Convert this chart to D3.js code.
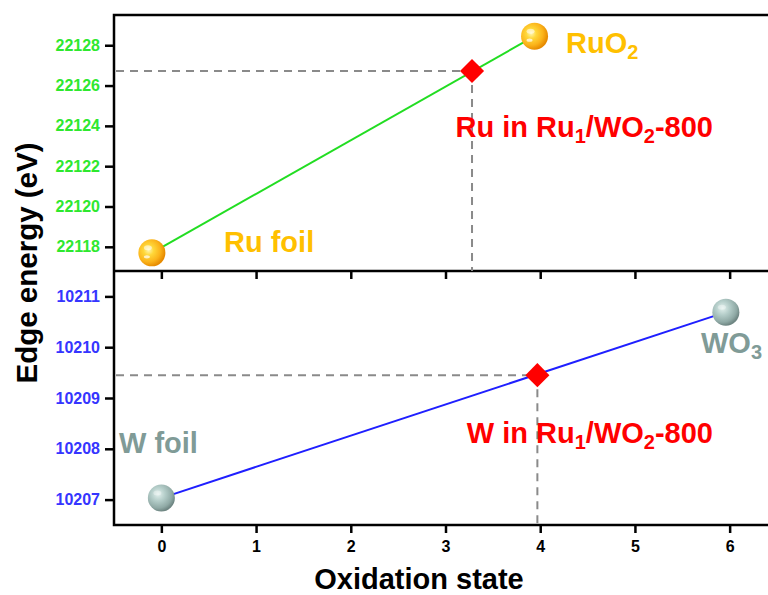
<!DOCTYPE html>
<html>
<head>
<meta charset="utf-8">
<script src="https://cdn.jsdelivr.net/npm/d3@7"></script>
<style>
  html, body { margin: 0; padding: 0; background: #fff; }
  svg { display: block; font-family: Arial, "Liberation Sans", sans-serif; font-weight: bold; }
</style>
</head>
<body>
<svg id="chart" width="768" height="595"></svg>
<script>
// Oxidation-state axis
const xTicks = [0, 1, 2, 3, 4, 5, 6];

// Ru K-edge panel
const ruTicks = [22118, 22120, 22122, 22124, 22126, 22128];
const ruRefNames = ["Ru foil", "RuO2"];
const ruRefStates = [-0.1, 3.94];
const ruRefEnergies = [22117.7, 22128.45];
const ruSampleState = 3.28;
const ruSampleEnergy = 22126.72;

// W L3-edge panel
const wTicks = [10207, 10208, 10209, 10210, 10211];
const wRefNames = ["W foil", "WO3"];
const wRefStates = [0, 5.96];
const wRefEnergies = [10207.03, 10210.69];
const wSampleState = 3.97;
const wSampleEnergy = 10209.45;

const svg = d3.select("#chart");
const padL = 114, padR = 777, padT = 15, padMid = 271, padB = 525;

const x = d3.scaleLinear().domain([-0.5, 6.5]).range([padL, padR]);
const yRu = d3.scaleLinear().domain([22116.8, 22129.5]).range([padMid, padT]);
const yW = d3.scaleLinear().domain([10206.5, 10211.5]).range([padB, padMid]);

const defs = svg.append("defs");
const gOr = defs.append("radialGradient").attr("id", "ballOrange")
  .attr("cx", "38%").attr("cy", "40%").attr("r", "62%");
[["0%", "#fff6b0"], ["30%", "#ffd83a"], ["70%", "#fbb31a"], ["100%", "#e68a00"]]
  .forEach(([o, c]) => gOr.append("stop").attr("offset", o).attr("stop-color", c));
const gGr = defs.append("radialGradient").attr("id", "ballGray")
  .attr("cx", "38%").attr("cy", "35%").attr("r", "65%");
[["0%", "#e2f0ed"], ["40%", "#b4cdc9"], ["80%", "#8fa9a5"], ["100%", "#6f8683"]]
  .forEach(([o, c]) => gGr.append("stop").attr("offset", o).attr("stop-color", c));

// Axes (ticks only; the frame is drawn separately)
function styleAxis(g, color, size) {
  g.select(".domain").remove();
  g.selectAll(".tick line").attr("stroke", "#000").attr("stroke-width", 2.5);
  g.selectAll(".tick text").attr("fill", color).attr("font-size", size)
    .attr("font-weight", "bold").attr("font-family", "Arial, 'Liberation Sans', sans-serif");
}

svg.append("g").attr("transform", `translate(${padL},0)`)
  .call(d3.axisLeft(yRu).tickValues(ruTicks).tickFormat(d3.format("d")).tickSize(9).tickPadding(5))
  .call(g => styleAxis(g, "#2ee82e", 16));
svg.append("g").attr("transform", `translate(${padL},0)`)
  .call(d3.axisLeft(yW).tickValues(wTicks).tickFormat(d3.format("d")).tickSize(9).tickPadding(5))
  .call(g => styleAxis(g, "#3535ff", 16));
svg.append("g").attr("transform", `translate(0,${padMid})`)
  .call(d3.axisBottom(x).tickValues(xTicks).tickFormat("").tickSize(8))
  .call(g => styleAxis(g, "#000", 16));
svg.append("g").attr("transform", `translate(0,${padB})`)
  .call(d3.axisBottom(x).tickValues(xTicks).tickFormat(d3.format("d")).tickSize(8).tickPadding(8))
  .call(g => styleAxis(g, "#000", 16));

// Frame
const frame = svg.append("g").attr("stroke", "#000").attr("stroke-width", 2.5).attr("fill", "none");
frame.append("rect").attr("x", padL).attr("y", padT).attr("width", padR - padL).attr("height", padB - padT);
frame.append("line").attr("x1", padL).attr("x2", padR).attr("y1", padMid).attr("y2", padMid);

// Guide lines to the sample points
const dash = svg.append("g").attr("stroke", "#8a8a8a").attr("stroke-width", 2)
  .attr("stroke-dasharray", "8,6").attr("fill", "none");
dash.append("line").attr("x1", padL + 2).attr("x2", x(ruSampleState))
  .attr("y1", yRu(ruSampleEnergy)).attr("y2", yRu(ruSampleEnergy));
dash.append("line").attr("x1", x(ruSampleState)).attr("x2", x(ruSampleState))
  .attr("y1", yRu(ruSampleEnergy)).attr("y2", padMid);
dash.append("line").attr("x1", padL + 2).attr("x2", x(wSampleState))
  .attr("y1", yW(wSampleEnergy)).attr("y2", yW(wSampleEnergy));
dash.append("line").attr("x1", x(wSampleState)).attr("x2", x(wSampleState))
  .attr("y1", yW(wSampleEnergy)).attr("y2", padB);

// Reference lines
const line = (ys) => d3.line().x(d => x(d[0])).y(d => ys(d[1]));
svg.append("path").datum(d3.zip(ruRefStates, ruRefEnergies))
  .attr("d", line(yRu)).attr("stroke", "#22dd22").attr("stroke-width", 2).attr("fill", "none");
svg.append("path").datum(d3.zip(wRefStates, wRefEnergies))
  .attr("d", line(yW)).attr("stroke", "#1f1fff").attr("stroke-width", 2).attr("fill", "none");

// Reference spheres
function ball(cx, cy, fill, shine) {
  const g = svg.append("g").attr("transform", `translate(${cx},${cy})`);
  g.append("circle").attr("r", 13.5).attr("fill", fill);
  g.append("ellipse").attr("cx", -4).attr("cy", -5).attr("rx", 4).attr("ry", 2.5)
    .attr("fill", "#fff").attr("opacity", shine);
  return g;
}
ruRefStates.forEach((s, i) => {
  const g = ball(x(s), yRu(ruRefEnergies[i]), "url(#ballOrange)", 0.55);
  g.append("ellipse").attr("cx", -5).attr("cy", 4).attr("rx", 3).attr("ry", 1.6)
    .attr("fill", "#fff").attr("opacity", 0.7);
});
wRefStates.forEach((s, i) => ball(x(s), yW(wRefEnergies[i]), "url(#ballGray)", 0.35));

// Sample diamonds
const diamond = d3.symbol().type(d3.symbolSquare).size(290);
[[ruSampleState, yRu(ruSampleEnergy)], [wSampleState, yW(wSampleEnergy)]].forEach(([s, py]) => {
  svg.append("path").attr("d", diamond())
    .attr("transform", `translate(${x(s)},${py}) rotate(45)`).attr("fill", "#ff0000");
});

// Labels
function label(px, py, color, parts, anchor) {
  const t = svg.append("text").attr("x", px).attr("y", py).attr("fill", color)
    .attr("font-size", 29).attr("text-anchor", anchor || "start");
  let shifted = false;
  parts.forEach(p => {
    const sub = typeof p !== "string";
    const ts = t.append("tspan").text(sub ? p.sub : p);
    if (sub) { ts.attr("font-size", 20).attr("dy", 6); shifted = true; }
    else if (shifted) { ts.attr("dy", -6); shifted = false; }
  });
}
label(566, 53, "#ffc000", ["RuO", { sub: "2" }]);
label(224, 252, "#ffc000", ["Ru foil"]);
label(713, 137, "#ff0000", ["Ru in Ru", { sub: "1" }, "/WO", { sub: "2" }, "-800"], "end");
label(119, 453, "#809b97", ["W foil"]);
label(701, 353, "#809b97", ["WO", { sub: "3" }]);
label(713, 443, "#ff0000", ["W in Ru", { sub: "1" }, "/WO", { sub: "2" }, "-800"], "end");

// Axis titles
svg.append("text").attr("x", 419).attr("y", 589).attr("text-anchor", "middle")
  .attr("font-size", 29).attr("fill", "#000").text("Oxidation state");
svg.append("text").attr("transform", "translate(37,263) rotate(-90)").attr("text-anchor", "middle")
  .attr("font-size", 29.5).attr("fill", "#000").text("Edge energy (eV)");
</script>
</body>
</html>
